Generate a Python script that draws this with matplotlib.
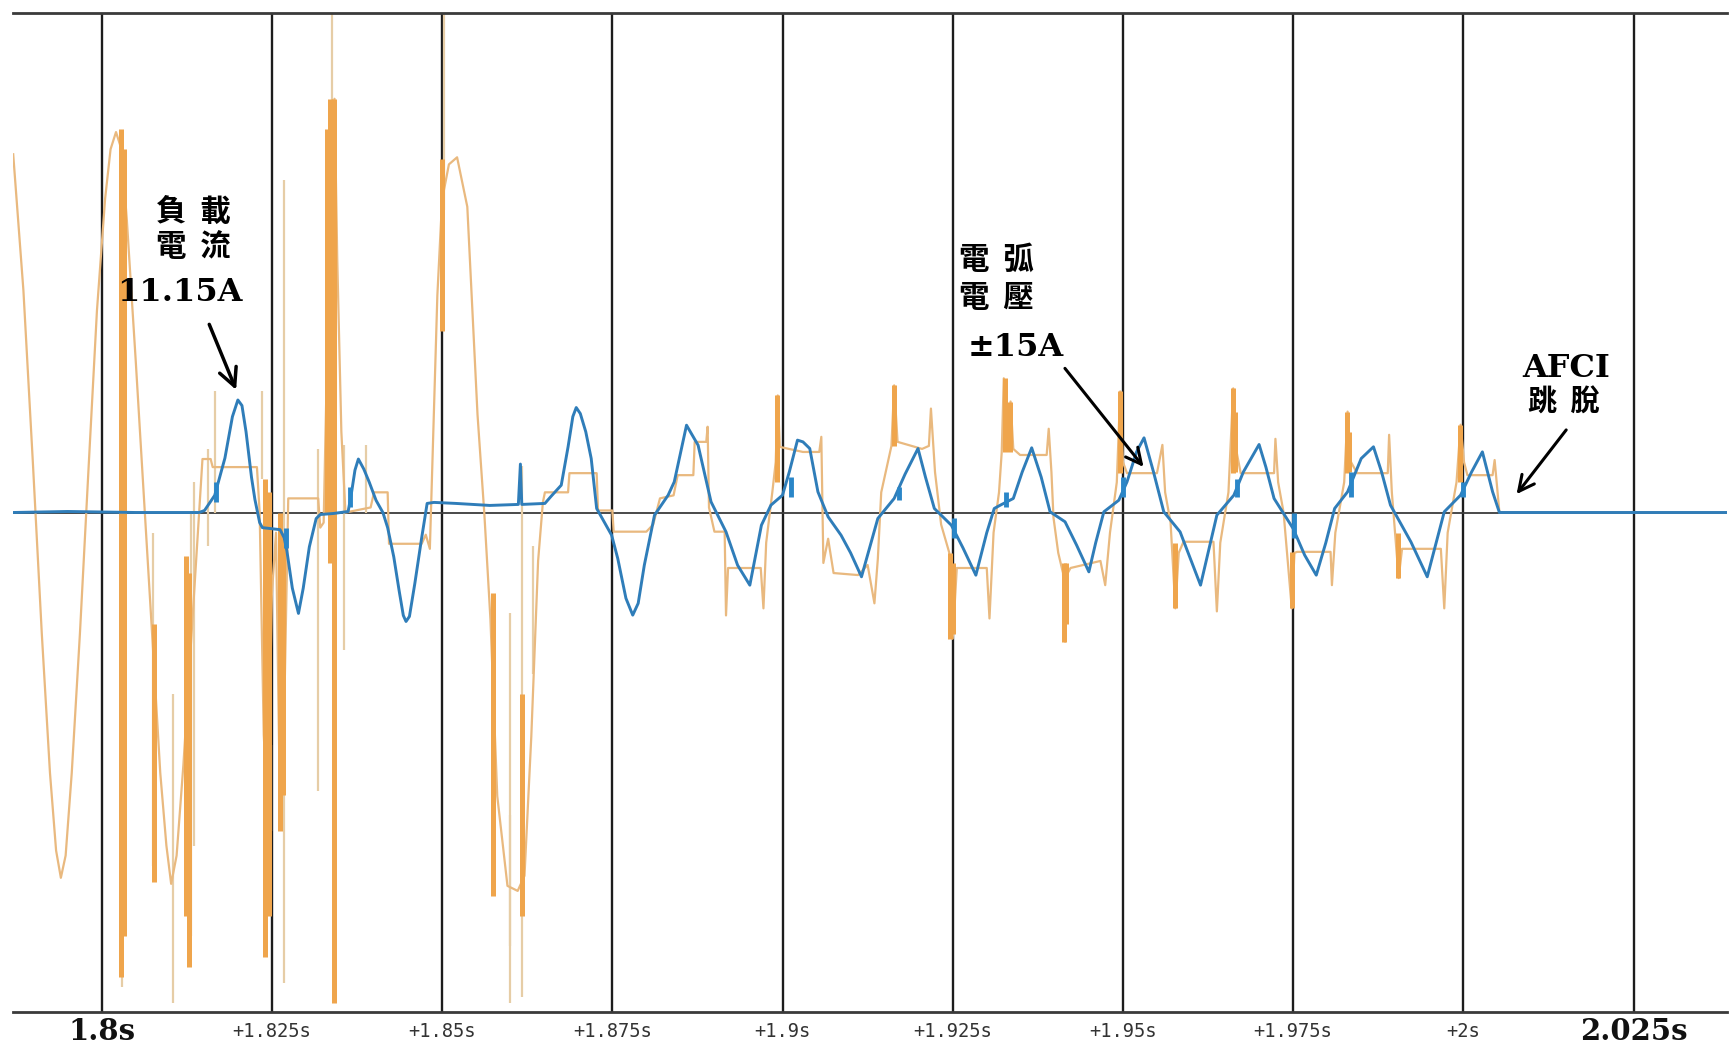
import matplotlib
matplotlib.use("Agg")
import matplotlib.pyplot as plt
from matplotlib.transforms import blended_transform_factory

# ---------------- data ----------------
grid_times = [1.8, 1.825, 1.85, 1.875, 1.9, 1.925, 1.95, 1.975, 2.0, 2.025]
tick_labels = ["1.8s", "+1.825s", "+1.85s", "+1.875s", "+1.9s", "+1.925s",
               "+1.95s", "+1.975s", "+2s", "2.025s"]

# load current (blue)
blue_t = [1.7870, 1.7950, 1.8050, 1.8143, 1.8151, 1.8166, 1.8181, 1.8192, 1.8200, 1.8206,
          1.8212, 1.8220, 1.8225, 1.8232, 1.8236, 1.8262, 1.8268, 1.8272, 1.8280, 1.8289,
          1.8296, 1.8305, 1.8315, 1.8321, 1.8340, 1.8362, 1.8367, 1.8372, 1.8377, 1.8385,
          1.8393, 1.8403, 1.8413, 1.8420, 1.8429, 1.8437, 1.8443, 1.8447, 1.8452, 1.8460,
          1.8470, 1.8478, 1.8488, 1.8520, 1.8570, 1.8612, 1.8615, 1.8617, 1.8651, 1.8660,
          1.8675, 1.8685, 1.8692, 1.8697, 1.8703, 1.8711, 1.8719, 1.8727, 1.8749, 1.8758,
          1.8770, 1.8780, 1.8788, 1.8797, 1.8812, 1.8832, 1.8841, 1.8852, 1.8859, 1.8876,
          1.8895, 1.8917, 1.8934, 1.8952, 1.8969, 1.8983, 1.9000, 1.9010, 1.9022, 1.9030,
          1.9040, 1.9052, 1.9067, 1.9086, 1.9100, 1.9116, 1.9128, 1.9140, 1.9164, 1.9180,
          1.9199, 1.9210, 1.9223, 1.9248, 1.9265, 1.9284, 1.9300, 1.9311, 1.9320, 1.9339,
          1.9352, 1.9366, 1.9380, 1.9393, 1.9415, 1.9432, 1.9450, 1.9460, 1.9472, 1.9494,
          1.9506, 1.9520, 1.9531, 1.9545, 1.9560, 1.9584, 1.9599, 1.9614, 1.9625, 1.9638,
          1.9663, 1.9677, 1.9700, 1.9710, 1.9722, 1.9750, 1.9767, 1.9784, 1.9798, 1.9811,
          1.9830, 1.9850, 1.9868, 1.9880, 1.9893, 1.9923, 1.9947, 1.9960, 1.9972, 1.9996,
          2.0012, 2.0028, 2.0043, 2.0053, 2.0100, 2.0388]
blue_v = [0.0, 0.1, 0.0, 0.0, 0.2, 1.7, 5.4, 9.5, 11.15, 10.6,
          8.0, 3.5, 1.3, -1.0, -1.5, -1.7, -2.5, -3.8, -7.5, -10.0,
          -7.5, -3.4, -0.6, -0.2, -0.1, 0.1, 2.0, 4.2, 5.3, 4.3,
          3.0, 1.2, 0.0, -1.5, -4.4, -7.8, -10.2, -10.8, -10.3, -7.0,
          -2.5, 0.9, 1.0, 0.9, 0.7, 0.8, 4.8, 0.8, 0.9, 1.6,
          2.71, 6.5, 9.5, 10.4, 9.8, 8.0, 5.35, 0.40, -2.25, -4.56,
          -8.5, -10.17, -9.0, -5.22, -0.26, 1.72, 3.04, 6.5, 8.65, 6.67,
          1.06, -1.92, -5.22, -7.20, -1.26, 0.73, 1.72, 4.03, 7.17, 7.0,
          6.34, 2.05, -0.43, -2.25, -4.0, -6.37, -3.5, -0.59, 1.39, 3.8,
          6.34, 3.5, 0.40, -1.26, -3.5, -6.21, -2.0, 0.40, 0.73, 1.39,
          4.0, 6.41, 3.5, 0.07, -0.92, -3.24, -5.88, -3.0, 0.07, 1.22,
          3.04, 6.0, 7.40, 4.0, 0.07, -1.92, -4.56, -7.20, -4.0, -0.26,
          1.72, 4.03, 6.74, 4.5, 1.39, -1.59, -4.23, -6.21, -3.0, 0.40,
          2.05, 5.35, 6.51, 4.0, 0.73, -2.91, -6.37, -3.0, 0.07, 1.72,
          4.0, 6.01, 2.05, 0.0, 0.0, 0.0]

# noisy thick parts of the current trace
blue_burst_t = [1.8168, 1.8270, 1.8365, 1.9012, 1.9171, 1.9252, 1.9328, 1.9500,
                1.9668, 1.9751, 1.9835, 2.0000]
blue_burst_lo = [1.0, -3.5, 0.5, 1.5, 1.2, -2.5, 0.5, 1.5, 1.5, -2.5, 1.5, 1.5]
blue_burst_hi = [3.0, -1.5, 2.5, 3.5, 2.5, -0.5, 2.0, 3.5, 3.3, 0.0, 4.0, 3.0]

# arc / line voltage (orange)
volt_t = [1.7870, 1.7885, 1.7899, 1.7912, 1.7924, 1.7933, 1.7940, 1.7947, 1.7956, 1.7968,
          1.7981, 1.7993, 1.8005, 1.8013, 1.8021, 1.8029, 1.8037, 1.8050, 1.8062, 1.8074,
          1.8086, 1.8095, 1.8102, 1.8110, 1.8120, 1.8132, 1.8143, 1.8148, 1.8160, 1.8163,
          1.8228, 1.8232, 1.8238, 1.8244, 1.8250, 1.8256, 1.8262, 1.8268, 1.8274, 1.8318,
          1.8321, 1.8326, 1.8330, 1.8334, 1.8338, 1.8342, 1.8346, 1.8352, 1.8358, 1.8395,
          1.8400, 1.8420, 1.8422, 1.8470, 1.8476, 1.8482, 1.8488, 1.8493, 1.8500, 1.8510,
          1.8522, 1.8537, 1.8552, 1.8562, 1.8571, 1.8581, 1.8596, 1.8611, 1.8621, 1.8631,
          1.8641, 1.8648, 1.8651, 1.8685, 1.8687, 1.8727, 1.8729, 1.8750, 1.8752, 1.8800,
          1.8810, 1.8820, 1.8840, 1.8846, 1.8869, 1.8871, 1.8888, 1.8890, 1.8892, 1.8900,
          1.8915, 1.8917, 1.8920, 1.8968, 1.8972, 1.8976, 1.8985, 1.8990, 1.8993, 1.8996,
          1.9030, 1.9054, 1.9057, 1.9060, 1.9067, 1.9075, 1.9111, 1.9125, 1.9135, 1.9140,
          1.9145, 1.9160, 1.9164, 1.9169, 1.9205, 1.9215, 1.9218, 1.9224, 1.9233, 1.9245,
          1.9250, 1.9256, 1.9300, 1.9304, 1.9310, 1.9318, 1.9322, 1.9325, 1.9330, 1.9335,
          1.9339, 1.9349, 1.9388, 1.9391, 1.9395, 1.9398, 1.9405, 1.9412, 1.9415, 1.9419,
          1.9423, 1.9467, 1.9474, 1.9481, 1.9491, 1.9496, 1.9500, 1.9506, 1.9550, 1.9558,
          1.9562, 1.9570, 1.9577, 1.9582, 1.9589, 1.9633, 1.9638, 1.9643, 1.9655, 1.9662,
          1.9667, 1.9673, 1.9722, 1.9724, 1.9728, 1.9736, 1.9748, 1.9752, 1.9756, 1.9805,
          1.9807, 1.9812, 1.9825, 1.9830, 1.9835, 1.9844, 1.9889, 1.9891, 1.9895, 1.9905,
          1.9910, 1.9967, 1.9972, 1.9977, 1.9990, 1.9996, 2.0001, 2.0006, 2.0043, 2.0046,
          2.0053, 2.0388]
volt_v = [35.5, 22.0, 4.8, -12.0, -25.8, -33.5, -36.2, -34.0, -25.8, -12.0,
          4.8, 20.0, 31.1, 36.0, 37.7, 36.0, 28.9, 15.0, 1.5, -12.0,
          -25.8, -33.0, -36.8, -34.0, -25.0, -12.0, 0.0, 5.3, 5.3, 4.5,
          4.5, 0.0, -22.0, -30.0, -8.0, -2.0, -30.0, -20.0, 1.4, 1.4,
          -1.5, -1.0, 12.0, 32.0, 40.0, 41.0, 25.0, 8.0, 0.0, 0.5,
          2.0, 2.0, -3.1, -3.1, -2.2, -3.6, 10.0, 21.5, 31.0, 34.5,
          35.2, 30.3, 9.7, -0.1, -10.6, -28.1, -37.0, -37.5, -36.0, -22.2,
          -4.8, 1.0, 2.0, 2.0, 3.9, 3.9, 0.2, 0.2, -1.9, -1.9,
          -1.2, 1.4, 1.7, 3.7, 3.7, 7.0, 7.0, 8.5, 0.5, -1.9,
          -1.9, -10.2, -5.5, -5.5, -9.5, -3.0, 2.0, 5.0, 11.6, 6.5,
          6.0, 6.0, 7.5, -5.0, -2.6, -6.0, -6.2, -5.2, -9.0, -4.6,
          2.0, 6.6, 12.6, 7.0, 6.3, 6.6, 10.3, 4.0, -1.2, -4.0,
          -12.5, -5.5, -5.5, -10.5, -2.0, 2.0, 6.0, 13.3, 7.0, 11.0,
          6.3, 5.7, 5.7, 8.3, 4.0, -0.5, -4.0, -6.0, -12.8, -6.0,
          -5.5, -4.8, -7.2, -2.0, 3.0, 12.0, 5.0, 3.9, 3.9, 6.7,
          2.0, -1.0, -9.5, -4.0, -2.9, -2.9, -9.8, -3.0, 2.0, 12.3,
          6.0, 3.9, 3.9, 7.3, 3.0, 0.0, -9.5, -4.0, -3.9, -3.9,
          -7.2, -2.0, 3.0, 10.0, 5.0, 3.9, 3.9, 7.7, 2.0, -6.5,
          -3.6, -3.6, -9.5, -2.0, 3.0, 8.7, 5.0, 3.7, 3.7, 5.2,
          0.0, 0.0]

# heavy arcing bursts on the voltage trace
burst_t = [1.8028, 1.8033, 1.8077, 1.8124, 1.8128, 1.8240, 1.8245, 1.8262, 1.8266,
           1.8331, 1.8336, 1.8341, 1.8500, 1.8575, 1.8618,
           1.8992, 1.9164, 1.9246, 1.9251, 1.9327, 1.9334, 1.9413, 1.9417, 1.9496,
           1.9577, 1.9661, 1.9664, 1.9749, 1.9829, 1.9832, 1.9904, 1.9995]
burst_lo = [-46.0, -42.0, -36.6, -40.0, -45.0, -44.0, -40.0, -31.6, -28.0,
            0.0, -5.0, -48.6, 18.0, -38.0, -40.0,
            3.0, 6.6, -12.5, -12.0, 6.0, 6.0, -12.8, -11.0, 3.9,
            -9.5, 3.9, 4.0, -9.5, 3.9, 4.0, -6.5, 3.0]
burst_hi = [38.0, 36.0, -11.0, -4.3, -6.0, 3.3, 2.0, 0.0, -2.0,
            38.0, 41.0, 41.0, 35.0, -8.0, -18.0,
            11.6, 12.6, -4.0, -5.0, 13.3, 11.0, -5.0, -5.0, 12.0,
            -3.0, 12.3, 10.0, -3.9, 10.0, 8.0, -2.0, 8.7]

# faint single-sample spikes
spike_t = [1.8030, 1.8075, 1.8105, 1.8131, 1.8135, 1.8156, 1.8166, 1.8235, 1.8248,
           1.8268, 1.8318, 1.8338, 1.8356, 1.8388, 1.8503, 1.8599, 1.8600, 1.8618, 1.8633]
spike_lo = [-47.0, -35.0, -48.6, -42.0, -33.0, -3.3, 0.0, 3.3, -31.6,
            -46.6, -27.6, 30.0, -13.6, 0.0, 30.0, -48.6, -43.0, -48.0, -16.0]
spike_hi = [-33.0, -2.0, -18.0, 0.0, 3.0, 6.3, 12.0, 12.0, -23.0,
            33.0, 6.3, 49.5, 6.7, 6.7, 49.5, -30.0, -10.0, 4.6, -3.3]

# ---------------- figure ----------------
W, H = 1733, 1048
fig = plt.figure(figsize=(W / 100, H / 100), dpi=100)
fig.patch.set_facecolor("white")
ax = fig.add_axes([13 / W, 1 - 1012 / H, (1727 - 13) / W, (1012 - 13) / H])

ax.set_xlim(1.78697, 2.03873)
ax.set_ylim(-49.5, 49.5)

# grid
ax.vlines(grid_times, -49.5, 49.5, color="#1c1c1c", lw=1.7, zorder=1)
ax.axhline(0, color="#3c3c3c", lw=1.3, zorder=1)

# orange voltage
ax.vlines(spike_t, spike_lo, spike_hi, color="#e6cda6", lw=1.6, zorder=2)
ax.plot(volt_t, volt_v, color="#e9b97f", lw=1.6, zorder=3)
ax.vlines(burst_t, burst_lo, burst_hi, color="#efa54c", lw=3.6, zorder=4)

# blue current
ax.plot(blue_t, blue_v, color="#2f7db9", lw=2.1, zorder=5)
ax.vlines(blue_burst_t, blue_burst_lo, blue_burst_hi, color="#2a86c8", lw=3.5, zorder=6)

# axes styling
for s in ("left", "right"):
    ax.spines[s].set_visible(False)
for s in ("top", "bottom"):
    ax.spines[s].set_linewidth(2.0)
    ax.spines[s].set_color("#3a3a3a")
ax.set_yticks([])
ax.set_xticks(grid_times)
# small relative labels as tick labels; the two bold end labels drawn separately
ax.set_xticklabels(["" if i in (0, len(tick_labels) - 1) else lab
                    for i, lab in enumerate(tick_labels)])
ax.tick_params(axis="x", length=0, pad=7)
for lab in ax.get_xticklabels():
    lab.set_fontfamily("DejaVu Sans Mono")
    lab.set_fontsize(13.5)
    lab.set_color("#333333")

trans = blended_transform_factory(ax.transData, fig.transFigure)
for i in (0, len(tick_labels) - 1):
    ax.text(grid_times[i], 1 - 1040 / H, tick_labels[i], transform=trans,
            family="DejaVu Serif", fontweight="bold", fontsize=21, color="#111111",
            ha="center", va="baseline", clip_on=False)

# ---------------- annotations ----------------
cjk = ["Noto Sans CJK TC", "DejaVu Sans"]
ser = ["DejaVu Serif"]

ax.text(1.81341, 29.8, "負  載", family=cjk, fontsize=22, fontweight="bold",
        ha="center", va="center", zorder=8)
ax.text(1.81341, 26.3, "電  流", family=cjk, fontsize=22, fontweight="bold",
        ha="center", va="center", zorder=8)
ax.text(1.81152, 21.8, "11.15A", family=ser, fontsize=23, fontweight="bold",
        ha="center", va="center", zorder=8)
ax.annotate("", xy=(1.81990, 11.9), xytext=(1.81564, 18.9),
            arrowprops=dict(arrowstyle="->", lw=2.5, color="black", mutation_scale=32),
            zorder=8)

ax.text(1.93138, 25.1, "電  弧", family=cjk, fontsize=22, fontweight="bold",
        ha="center", va="center", zorder=8)
ax.text(1.93138, 21.3, "電  壓", family=cjk, fontsize=22, fontweight="bold",
        ha="center", va="center", zorder=8)
ax.text(1.93432, 16.4, "±15A", family=ser, fontsize=23, fontweight="bold",
        ha="center", va="center", zorder=8)
ax.annotate("", xy=(1.95328, 4.3), xytext=(1.94123, 14.5),
            arrowprops=dict(arrowstyle="->", lw=2.2, color="black", mutation_scale=28),
            zorder=8)

ax.text(2.01506, 14.3, "AFCI", family=ser, fontsize=23, fontweight="bold",
        ha="center", va="center", zorder=8)
ax.text(2.01477, 11.0, "跳  脫", family=cjk, fontsize=21, fontweight="bold",
        ha="center", va="center", zorder=8)
ax.annotate("", xy=(2.00757, 1.6), xytext=(2.01536, 8.4),
            arrowprops=dict(arrowstyle="->", lw=2.2, color="black", mutation_scale=28),
            zorder=8)

fig.savefig("out.png", dpi=100, facecolor="white")
